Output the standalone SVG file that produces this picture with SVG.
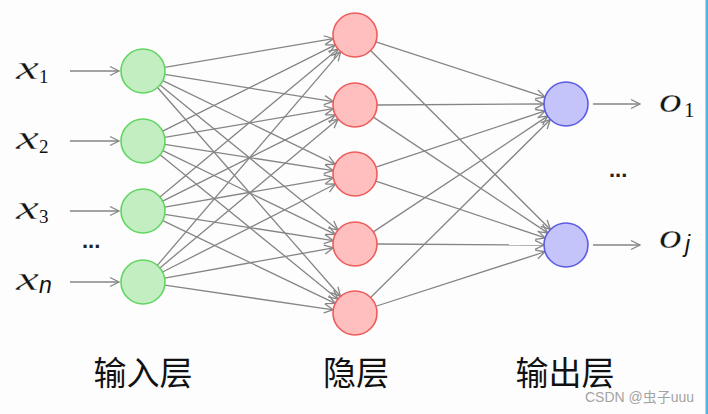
<svg xmlns="http://www.w3.org/2000/svg" width="708" height="414" viewBox="0 0 708 414">
<defs>
<marker id="arr" markerUnits="userSpaceOnUse" markerWidth="12" markerHeight="12" refX="9" refY="4.5" orient="auto" overflow="visible">
<path d="M0,0 L9,4.5 L0,9" fill="none" stroke="#858585" stroke-width="1.3"/>
</marker>
<style>
.e{stroke:#858585;stroke-width:1.3;fill:none;marker-end:url(#arr)}
.in{fill:#c2eec2;stroke:#62d562;stroke-width:1.6}
.hid{fill:#ffbfbf;stroke:#ee5c5c;stroke-width:1.6}
.out{fill:#c4c4fa;stroke:#5b5be4;stroke-width:1.6}
.mx{font-family:"Liberation Serif",serif;font-style:italic;fill:#111;stroke:#fdfdfd;stroke-width:0.35}
.sub{font-family:"Liberation Serif",serif;fill:#111}
.dots{font-family:"Liberation Sans",sans-serif;font-weight:bold;font-size:22px;fill:#222}
.cap{font-family:"Liberation Sans","Noto Sans CJK SC",sans-serif;font-size:33px;fill:#111;text-anchor:middle}
</style>
</defs>
<rect width="708" height="414" fill="#fdfdfd"/>
<rect x="705.5" y="0" width="2.5" height="414" fill="#55b4e0"/>

<g id="connectors">
<line class="e" x1="70" y1="71" x2="119" y2="71"/>
<line class="e" x1="70" y1="141" x2="119" y2="141"/>
<line class="e" x1="70" y1="211" x2="119" y2="211"/>
<line class="e" x1="70" y1="282" x2="119" y2="282"/>

<line class="e" x1="164.69" y1="67.32" x2="333.31" y2="38.68"/>
<line class="e" x1="164.72" y1="74.48" x2="333.28" y2="101.52"/>
<line class="e" x1="162.79" y1="80.61" x2="335.21" y2="164.39"/>
<line class="e" x1="160.05" y1="84.91" x2="337.95" y2="230.09"/>
<line class="e" x1="157.5" y1="87.55" x2="340.5" y2="296.45"/>

<line class="e" x1="162.68" y1="131.16" x2="335.32" y2="44.84"/>
<line class="e" x1="164.69" y1="137.32" x2="333.31" y2="108.68"/>
<line class="e" x1="164.74" y1="144.38" x2="333.26" y2="170.62"/>
<line class="e" x1="162.79" y1="150.61" x2="335.21" y2="234.39"/>
<line class="e" x1="160.08" y1="154.86" x2="337.92" y2="299.14"/>

<line class="e" x1="159.93" y1="196.95" x2="338.07" y2="49.05"/>
<line class="e" x1="162.68" y1="201.16" x2="335.32" y2="114.84"/>
<line class="e" x1="164.67" y1="207.22" x2="333.33" y2="177.78"/>
<line class="e" x1="164.74" y1="214.38" x2="333.26" y2="240.62"/>
<line class="e" x1="162.82" y1="220.54" x2="335.18" y2="303.46"/>

<line class="e" x1="157.33" y1="265.31" x2="340.67" y2="51.69"/>
<line class="e" x1="159.89" y1="267.9" x2="338.11" y2="119.1"/>
<line class="e" x1="162.6" y1="272.01" x2="335.4" y2="183.99"/>
<line class="e" x1="164.65" y1="278.12" x2="333.35" y2="247.88"/>
<line class="e" x1="164.77" y1="285.18" x2="333.23" y2="309.82"/>

<line class="e" x1="375.91" y1="41.84" x2="545.09" y2="97.16"/>
<line class="e" x1="370.59" y1="50.52" x2="550.41" y2="229.48"/>
<line class="e" x1="377" y1="105" x2="544" y2="104"/>
<line class="e" x1="373.33" y1="117.16" x2="547.67" y2="232.84"/>
<line class="e" x1="375.88" y1="167.07" x2="545.12" y2="110.93"/>
<line class="e" x1="375.85" y1="181.02" x2="545.15" y2="237.98"/>
<line class="e" x1="373.33" y1="231.84" x2="547.67" y2="116.16"/>
<line class="e" x1="377" y1="244" x2="544" y2="245"/>
<line class="e" x1="370.63" y1="297.52" x2="550.37" y2="119.52"/>
<line class="e" x1="375.94" y1="306.25" x2="545.06" y2="251.75"/>

<line class="e" x1="593" y1="104" x2="640" y2="104"/>
<line class="e" x1="593" y1="245" x2="640" y2="245"/>
</g>

<g id="input-nodes">
<circle id="in1" class="in" cx="143" cy="71" r="22"/>
<circle id="in2" class="in" cx="143" cy="141" r="22"/>
<circle id="in3" class="in" cx="143" cy="211" r="22"/>
<circle id="in4" class="in" cx="143" cy="282" r="22"/>
</g>
<g id="hidden-nodes">
<circle id="h1" class="hid" cx="355" cy="35" r="22"/>
<circle id="h2" class="hid" cx="355" cy="105" r="22"/>
<circle id="h3" class="hid" cx="355" cy="174" r="22"/>
<circle id="h4" class="hid" cx="355" cy="244" r="22"/>
<circle id="h5" class="hid" cx="355" cy="313" r="22"/>
</g>
<g id="output-nodes">
<circle id="o1" class="out" cx="566" cy="104" r="22"/>
<circle id="o2" class="out" cx="566" cy="245" r="22"/>
</g>

<g id="input-labels">
<text class="mx" x="16" y="79" font-size="34" textLength="23" lengthAdjust="spacingAndGlyphs">x</text>
<text class="sub" x="39" y="83" font-size="19">1</text>
<text class="mx" x="16" y="149" font-size="34" textLength="23" lengthAdjust="spacingAndGlyphs">x</text>
<text class="sub" x="39" y="153" font-size="19">2</text>
<text class="mx" x="16" y="219" font-size="34" textLength="23" lengthAdjust="spacingAndGlyphs">x</text>
<text class="sub" x="39" y="223" font-size="19">3</text>
<text class="mx" x="16" y="290" font-size="34" textLength="23" lengthAdjust="spacingAndGlyphs">x</text>
<text x="39" y="293" font-size="23" font-family="Liberation Sans, sans-serif" font-style="italic" fill="#111">n</text>
<text class="dots" x="82" y="248">...</text>
</g>

<g id="output-labels">
<text class="mx" x="659" y="112" font-size="36" stroke-width="0" textLength="23" lengthAdjust="spacingAndGlyphs">o</text>
<text class="sub" x="684" y="117" font-size="21">1</text>
<text class="mx" x="659" y="248" font-size="36" stroke-width="0" textLength="23" lengthAdjust="spacingAndGlyphs">o</text>
<text x="685" y="252" font-size="23" font-family="Liberation Sans, sans-serif" font-style="italic" fill="#111">j</text>
<text class="dots" x="609" y="177">...</text>
</g>

<g id="captions">
<text class="cap" x="143" y="385">输入层</text>
<text class="cap" x="356" y="385">隐层</text>
<text class="cap" x="565" y="385">输出层</text>
</g>
<text x="585" y="402" font-family="Liberation Sans, Noto Sans CJK SC, sans-serif" font-size="14" fill="#a3a3a3">CSDN @虫子uuu</text>
</svg>
